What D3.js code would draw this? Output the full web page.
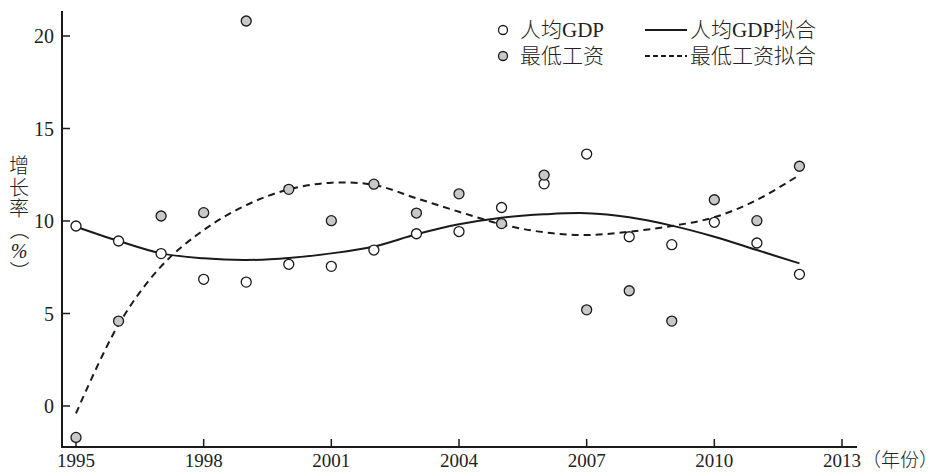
<!DOCTYPE html>
<html>
<head>
<meta charset="utf-8">
<script src="https://cdn.jsdelivr.net/npm/d3@7"></script>
<style>
  html, body { margin: 0; padding: 0; background: #fff; }
  svg { display: block; }
  text { font-family: "Liberation Serif", "Noto Sans CJK SC", serif; fill: #222; }
</style>
</head>
<body>
<svg id="chart" width="947" height="473"></svg>
<script>
// Annual growth rates (%), 1995–2012
const years = [1995, 1996, 1997, 1998, 1999, 2000, 2001, 2002, 2003, 2004,
               2005, 2006, 2007, 2008, 2009, 2010, 2011, 2012];
const gdpPerCapita = [9.73, 8.92, 8.24, 6.85, 6.70, 7.66, 7.55, 8.43, 9.31, 9.43,
                      10.73, 12.01, 13.62, 9.15, 8.72, 9.93, 8.81, 7.12];
const minWage = [-1.70, 4.59, 10.27, 10.45, 20.81, 11.71, 10.02, 11.99, 10.43, 11.47,
                 9.86, 12.48, 5.20, 6.23, 4.59, 11.15, 10.02, 12.96];
// Fitted trend values at each year
const gdpFit = [9.69, 8.92, 8.25, 7.98, 7.89, 8.00, 8.25, 8.62, 9.28, 9.82,
                10.18, 10.36, 10.42, 10.20, 9.75, 9.15, 8.43, 7.71];
const minWageFit = [-0.40, 4.40, 7.55, 9.51, 10.86, 11.71, 12.07, 11.95, 11.23, 10.50,
                    9.82, 9.39, 9.24, 9.42, 9.73, 10.20, 11.14, 12.49];

const xTicks = [1995, 1998, 2001, 2004, 2007, 2010, 2013];
const yTicks = [0, 5, 10, 15, 20];
const yLabelChars = ["增", "长", "率", "（", "%", "）"];
const legendItems = [
  { label: "人均GDP", kind: "open" },
  { label: "最低工资", kind: "filled" },
  { label: "人均GDP拟合", kind: "solid" },
  { label: "最低工资拟合", kind: "dashed" }
];

const svg = d3.select("#chart");
const ink = "#1a1a1a";
const dotFill = "#c8c8c8";

const x = d3.scaleLinear().domain([1995, 2013]).range([76, 842]);
const y = d3.scaleLinear().domain([0, 20]).range([406, 36]);

const axisLeft = 62, axisBottom = 447, axisTop = 11, axisRight = 857;

// Axis lines
svg.append("line")
  .attr("x1", axisLeft).attr("x2", axisLeft)
  .attr("y1", axisTop).attr("y2", axisBottom + 1)
  .attr("stroke", ink).attr("stroke-width", 2);
svg.append("line")
  .attr("x1", axisLeft - 1).attr("x2", axisRight)
  .attr("y1", axisBottom).attr("y2", axisBottom)
  .attr("stroke", ink).attr("stroke-width", 2);

// Y ticks (pointing inward) and labels
const yAxis = svg.append("g");
yAxis.selectAll("line").data(yTicks).join("line")
  .attr("x1", axisLeft).attr("x2", axisLeft + 8)
  .attr("y1", d => y(d)).attr("y2", d => y(d))
  .attr("stroke", ink).attr("stroke-width", 1.5);
yAxis.selectAll("text").data(yTicks).join("text")
  .attr("x", axisLeft - 8).attr("y", d => y(d))
  .attr("dy", "0.35em")
  .attr("text-anchor", "end")
  .attr("font-size", 20)
  .text(d => d);

// X ticks (pointing inward) and labels
const xAxis = svg.append("g");
xAxis.selectAll("line").data(xTicks).join("line")
  .attr("x1", d => x(d)).attr("x2", d => x(d))
  .attr("y1", axisBottom).attr("y2", axisBottom - 8)
  .attr("stroke", ink).attr("stroke-width", 1.5);
xAxis.selectAll("text").data(xTicks).join("text")
  .attr("x", d => x(d)).attr("y", 467)
  .attr("text-anchor", "middle")
  .attr("font-size", 19)
  .text(d => d);
svg.append("text")
  .attr("x", x(2013) + 20).attr("y", 467)
  .attr("font-size", 19)
  .attr("font-family", "Noto Sans CJK SC")
  .attr("font-weight", 300)
  .text("（年份）");

// Vertical y-axis title
const yTitle = svg.append("g").attr("font-size", 20);
const charY = [166, 188, 209, 230, 251, 271];
yTitle.selectAll("text").data(yLabelChars).join("text")
  .attr("text-anchor", "middle")
  .attr("dy", "0.35em")
  .attr("font-family", (d) => d === "%" ? "Liberation Serif" : "Noto Sans CJK SC")
  .attr("font-weight", 300)
  .attr("font-style", d => d === "%" ? "italic" : null)
  .attr("transform", (d, i) => {
    const rot = (d === "（" || d === "）") ? " rotate(90)" : "";
    return `translate(19,${charY[i]})${rot}`;
  })
  .text(d => d);

// Fitted curves
const line = d3.line()
  .x((d, i) => x(years[i]))
  .y(d => y(d))
  .curve(d3.curveCatmullRom.alpha(0.5));

svg.append("path")
  .attr("d", line(gdpFit))
  .attr("fill", "none").attr("stroke", ink).attr("stroke-width", 2);
svg.append("path")
  .attr("d", line(minWageFit))
  .attr("fill", "none").attr("stroke", ink).attr("stroke-width", 2)
  .attr("stroke-dasharray", "7,5");

// Observed points
svg.append("g").selectAll("circle").data(gdpPerCapita).join("circle")
  .attr("cx", (d, i) => x(years[i])).attr("cy", d => y(d))
  .attr("r", 5)
  .attr("fill", "#fff").attr("stroke", ink).attr("stroke-width", 1.3);
svg.append("g").selectAll("circle").data(minWage).join("circle")
  .attr("cx", (d, i) => x(years[i])).attr("cy", d => y(d))
  .attr("r", 5)
  .attr("fill", dotFill).attr("stroke", ink).attr("stroke-width", 1.3);

// Legend
const legendPos = [
  { sx: 503, tx: 520, y: 30 },
  { sx: 503, tx: 520, y: 56 },
  { sx: 645, tx: 690, y: 30 },
  { sx: 645, tx: 690, y: 56 }
];
const legend = svg.append("g");
legendItems.forEach((item, i) => {
  const p = legendPos[i];
  if (item.kind === "open" || item.kind === "filled") {
    legend.append("circle")
      .attr("cx", p.sx).attr("cy", p.y).attr("r", 4.5)
      .attr("fill", item.kind === "open" ? "#fff" : dotFill)
      .attr("stroke", ink).attr("stroke-width", 1.3);
  } else {
    legend.append("line")
      .attr("x1", p.sx).attr("x2", p.sx + 42)
      .attr("y1", p.y).attr("y2", p.y)
      .attr("stroke", ink).attr("stroke-width", 2)
      .attr("stroke-dasharray", item.kind === "dashed" ? "5,3" : null);
  }
  legend.append("text")
    .attr("x", p.tx).attr("y", p.y)
    .attr("dy", "0.35em")
    .attr("font-size", 21)
    .attr("font-weight", 300)
    .text(item.label);
});
</script>
</body>
</html>
